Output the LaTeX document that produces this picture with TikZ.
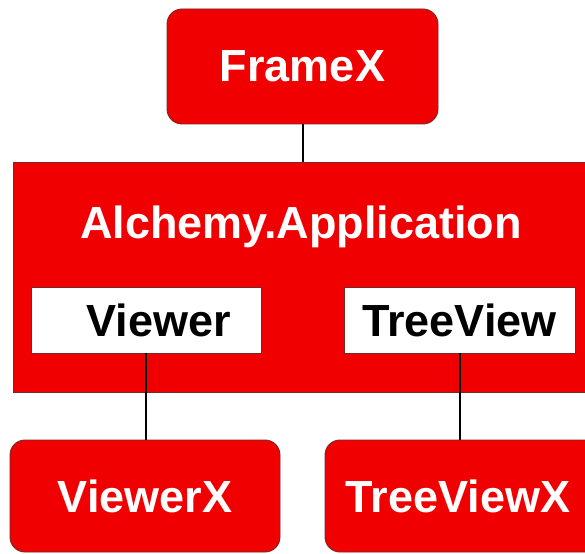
\documentclass[tikz,border=0pt]{standalone}
\usepackage{fontspec}
\setmainfont{Liberation Sans}
\definecolor{boxred}{RGB}{240,0,0}
\definecolor{edgered}{RGB}{120,40,40}
\begin{document}
\begin{tikzpicture}[x=1pt,y=-1pt,
  redbox/.style={draw=edgered,line width=0.9pt,fill=boxred,rounded corners=15pt,
    text=white,font=\fontsize{45}{50}\selectfont\bfseries,inner sep=0pt},
  whitebox/.style={draw=edgered,line width=0.9pt,fill=white,minimum width=230pt,minimum height=66pt,
    text=black,font=\fontsize{45}{50}\selectfont\bfseries,inner sep=0pt},
  link/.style={draw=black,line width=2pt}]
\useasboundingbox (0,0) rectangle (585,553);
\clip (0,0) rectangle (585,553);
\fill[white] (0,0) rectangle (585,553);
% FrameX
\node[redbox,minimum width=271pt,minimum height=115pt] (framex) at (302.5,66.5) {FrameX};
% Alchemy.Application container
\node[draw=edgered,line width=0.9pt,fill=boxred,minimum width=590pt,minimum height=230pt,inner sep=0pt] (app) at (308,277) {};
\node[text=white,font=\fontsize{45}{50}\selectfont\bfseries,inner sep=0pt] (apptitle) at (301,227) {Alchemy.Application};
% inner boxes
\node[whitebox] (viewer) at (146,320) {\hspace*{25pt}Viewer};
\node[whitebox,minimum width=231pt] (treeview) at (459.5,320) {TreeView};
% lower boxes
\node[redbox,minimum width=270pt,minimum height=112pt] (viewerx) at (145,496) {ViewerX};
\node[redbox,minimum width=280pt,minimum height=112pt] (treeviewx) at (465,496) {TreeViewX\hspace*{14pt}};
% connectors
\draw[link] (framex.south) -- (framex.south |- app.north);
\draw[link] (viewer.south) -- (viewer.south |- viewerx.north);
\draw[link] (treeview.south) -- (treeview.south |- treeviewx.north);
\end{tikzpicture}
\end{document}
